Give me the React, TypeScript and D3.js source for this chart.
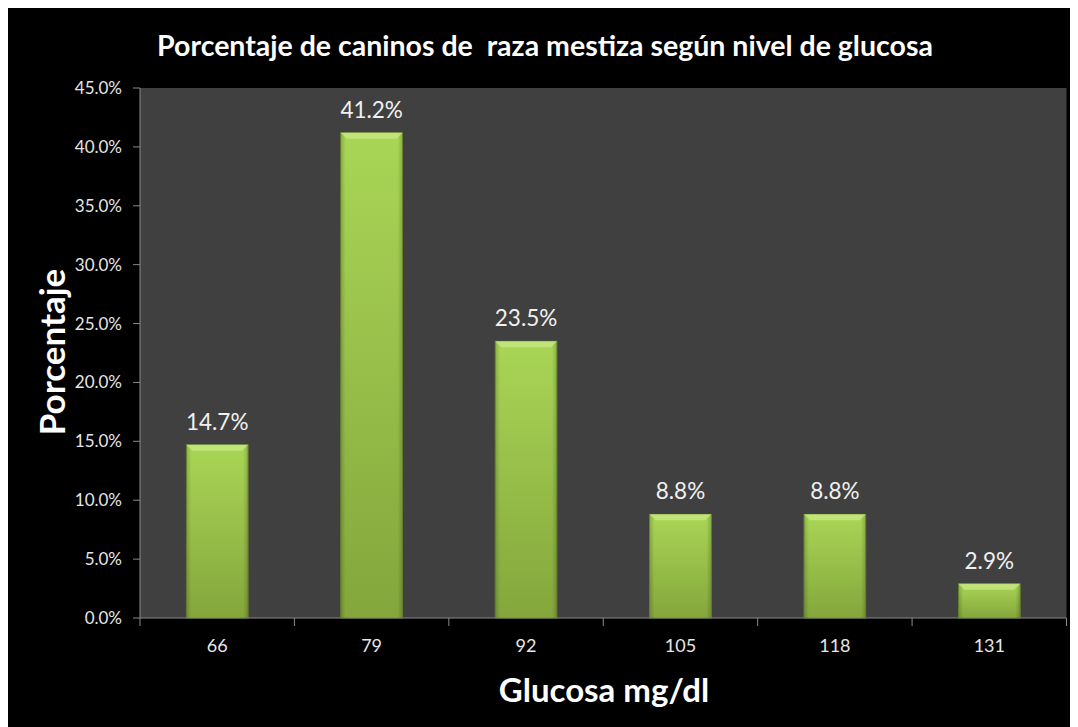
import React from "react";
import * as d3 from "d3";

const categories = ["66", "79", "92", "105", "118", "131"];
const values = [14.7, 41.2, 23.5, 8.8, 8.8, 2.9];
const yTicks = [0, 5, 10, 15, 20, 25, 30, 35, 40, 45];
const title = "Porcentaje de caninos de  raza mestiza según nivel de glucosa";
const xTitle = "Glucosa mg/dl";
const yTitle = "Porcentaje";

const W = 1070;
const H = 719;
// plot area in svg coords (svg placed at 8,8)
const PL = 132, PR = 1058.5, PT = 80, PB = 610;

export default function App() {
  const x = d3.scaleBand<string>().domain(categories).range([PL, PR]).paddingInner(0.6).paddingOuter(0.3);
  const xb = d3.scaleBand<string>().domain(categories).range([PL, PR]);
  const y = d3.scaleLinear().domain([0, 45]).range([PB, PT]);
  const font = "Lato, 'Open Sans', sans-serif";
  return (
    <svg width={W} height={H} style={{ display: "block", background: "#000" }} fontFamily={font}>
      <defs>
        <linearGradient id="barg" x1="0" y1="0" x2="0" y2="1">
          <stop offset="0" stopColor="#a9d656" />
          <stop offset="1" stopColor="#84a63c" />
        </linearGradient>
        <linearGradient id="barh" x1="0" y1="0" x2="1" y2="0">
          <stop offset="0" stopColor="#000" stopOpacity="0.18" />
          <stop offset="0.08" stopColor="#000" stopOpacity="0" />
          <stop offset="0.92" stopColor="#000" stopOpacity="0" />
          <stop offset="1" stopColor="#000" stopOpacity="0.18" />
        </linearGradient>
      </defs>
      <rect x={0} y={0} width={W} height={H} fill="#000" />
      <text x={537} y={48} textAnchor="middle" fill="#fff" fontWeight="bold" fontSize={28.5} style={{ whiteSpace: "pre" }}>
        {title}
      </text>
      <rect x={PL} y={PT} width={PR - PL} height={PB - PT} fill="#404040" />
      {/* y axis */}
      <line x1={PL} x2={PL} y1={PT} y2={PB} stroke="#8a8a8a" strokeWidth={1} />
      {yTicks.map((t) => (
        <g key={t}>
          <line x1={PL - 7} x2={PL} y1={y(t)} y2={y(t)} stroke="#8a8a8a" />
          <text x={PL - 18} y={y(t)} dy="0.35em" textAnchor="end" fill="#e6e6e6" fontSize={17}>
            {t.toFixed(1) + "%"}
          </text>
        </g>
      ))}
      {/* x axis */}
      <line x1={PL} x2={PR} y1={PB} y2={PB} stroke="#8a8a8a" />
      {categories.map((c) => (
        <line key={"t" + c} x1={xb(c)!} x2={xb(c)!} y1={PB} y2={PB + 8} stroke="#8a8a8a" />
      ))}
      <line x1={PR} x2={PR} y1={PB} y2={PB + 8} stroke="#8a8a8a" />
      {categories.map((c) => (
        <text key={"l" + c} x={xb(c)! + xb.bandwidth() / 2} y={638} dy="0.35em" textAnchor="middle" fill="#e6e6e6" fontSize={18}>
          {c}
        </text>
      ))}
      {/* bars */}
      {values.map((v, i) => {
        const c = categories[i];
        const bx = x(c)!;
        const bw = x.bandwidth();
        const by = y(v);
        const bh = PB - by;
        const bev = Math.min(6, bh / 2);
        return (
          <g key={"b" + c}>
            <rect x={bx} y={by} width={bw} height={bh} fill="url(#barg)" stroke="#6f8f2e" strokeWidth={0.8} />
            <rect x={bx} y={by} width={bw} height={bh} fill="url(#barh)" />
            <polygon
              points={`${bx},${by} ${bx + bw},${by} ${bx + bw - bev},${by + bev} ${bx + bev},${by + bev}`}
              fill="#c4e67f"
              opacity={0.85}
            />
            <text x={bx + bw / 2} y={by - 15} textAnchor="middle" fill="#f0f0f0" fontSize={22.5}>
              {v.toFixed(1) + "%"}
            </text>
          </g>
        );
      })}
      <text x={596} y={682} dy="0.35em" textAnchor="middle" fill="#fff" fontWeight="bold" fontSize={33}>
        {xTitle}
      </text>
      <text
        transform={`translate(45,${344}) rotate(-90)`}
        textAnchor="middle"
        dy="0.35em"
        fill="#fff"
        fontWeight="bold"
        fontSize={35}
      >
        {yTitle}
      </text>
    </svg>
  );
}
